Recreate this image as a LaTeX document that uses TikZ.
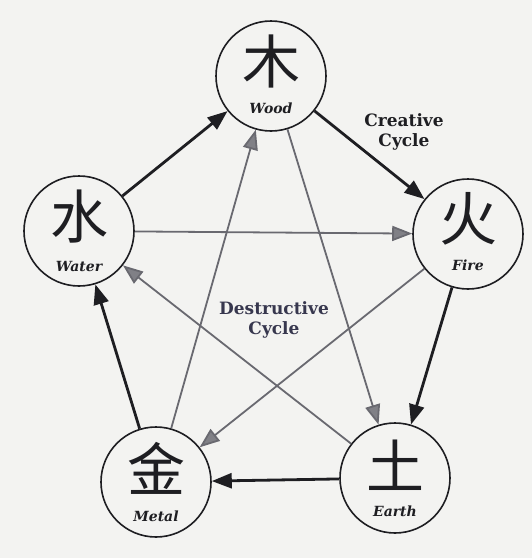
\documentclass[tikz,border=0pt]{standalone}
\usepackage{fontspec}
\newfontfamily\cjk{Noto Sans CJK SC}
\newfontfamily\lblfont{DejaVu Serif}
\usetikzlibrary{arrows.meta}
\definecolor{bg}{RGB}{243,243,241}
\definecolor{ink}{RGB}{30,30,34}
\definecolor{dgray}{RGB}{105,105,112}
\definecolor{agray}{RGB}{128,128,134}
\definecolor{dtext}{RGB}{55,55,78}
\tikzset{
 elem/.style={circle, draw=ink, line width=1.6pt, fill=bg, minimum size=110pt, inner sep=0pt},
 glyph/.style={font=\cjk\fontsize{58}{58}\selectfont, text=ink, inner sep=0pt},
 elabel/.style={font=\lblfont\bfseries\itshape\fontsize{14}{14}\selectfont, text=ink, inner sep=0pt},
 creative/.style={draw=ink, line width=2.8pt, -{Triangle[length=20pt,width=15pt]}},
 destructive/.style={draw=dgray, line width=1.8pt, -{Triangle[length=20pt,width=15pt,fill=agray]}},
 cyclelabel/.style={font=\lblfont\bfseries\fontsize{17}{20}\selectfont, align=center, inner sep=0pt},
}
\begin{document}
\begin{tikzpicture}[x=1pt,y=-1pt]
\fill[bg] (0,0) rectangle (532,558);
\useasboundingbox (0,0) rectangle (532,558);
% element circles
\node[elem] (wood)  at (271,76)  {};
\node[elem] (water) at (79,231)  {};
\node[elem] (fire)  at (468,234) {};
\node[elem] (metal) at (156,482) {};
\node[elem] (earth) at (395,478) {};
% glyphs and labels
\node[glyph]  (woodg)  at ([yshift=15pt]wood.center)   {木};
\node[elabel] (woodl)  at ([yshift=-32pt]wood.center)  {Wood};
\node[glyph]  (waterg) at ([yshift=14pt]water.center)  {水};
\node[elabel] (waterl) at ([yshift=-35pt]water.center) {Water};
\node[glyph]  (fireg)  at ([yshift=15pt]fire.center)   {火};
\node[elabel] (firel)  at ([yshift=-31pt]fire.center)  {Fire};
\node[glyph]  (metalg) at ([yshift=14pt]metal.center)  {金};
\node[elabel] (metall) at ([yshift=-34pt]metal.center) {Metal};
\node[glyph]  (earthg) at ([yshift=13pt]earth.center)  {土};
\node[elabel] (earthl) at ([yshift=-33pt]earth.center) {Earth};
% destructive cycle
\draw[destructive] (wood) -- (earth);
\draw[destructive] (earth) -- (water);
\draw[destructive] (water) -- (fire);
\draw[destructive] (fire) -- (metal);
\draw[destructive] (metal) -- (wood);
% creative cycle
\draw[creative] (wood) -- (fire);
\draw[creative] (fire) -- (earth);
\draw[creative] (earth) -- (metal);
\draw[creative] (metal) -- (water);
\draw[creative] (water) -- (wood);
% cycle labels
\node[cyclelabel, text=ink] (ctext) at (404,132) {Creative\\Cycle};
\node[cyclelabel, text=dtext] (dtext) at (274,320) {Destructive\\Cycle};
\end{tikzpicture}
\end{document}
